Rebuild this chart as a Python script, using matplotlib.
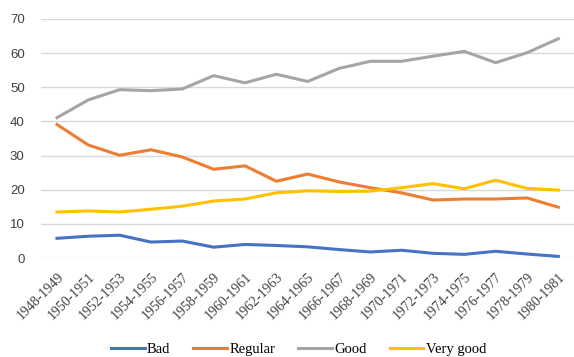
import matplotlib.pyplot as plt

plt.rcParams['font.family'] = ['Liberation Serif', 'DejaVu Serif']

# categories (two-year periods)
periods = ['1948-1949', '1950-1951', '1952-1953', '1954-1955', '1956-1957',
           '1958-1959', '1960-1961', '1962-1963', '1964-1965', '1966-1967',
           '1968-1969', '1970-1971', '1972-1973', '1974-1975', '1976-1977',
           '1978-1979', '1980-1981']

# series values (%)
bad = [5.8, 6.4, 6.7, 4.7, 5.0, 3.2, 4.0, 3.7, 3.3, 2.5,
       1.8, 2.3, 1.4, 1.1, 2.0, 1.2, 0.5]
regular = [39.1, 33.1, 30.1, 31.7, 29.6, 26.0, 27.0, 22.5, 24.6, 22.3,
           20.6, 19.1, 17.0, 17.3, 17.3, 17.6, 14.9]
good = [41.1, 46.3, 49.3, 49.0, 49.5, 53.4, 51.3, 53.8, 51.7, 55.5,
        57.6, 57.6, 59.1, 60.5, 57.2, 60.1, 64.2]
very_good = [13.5, 13.8, 13.5, 14.3, 15.2, 16.7, 17.3, 19.1, 19.7, 19.5,
             19.6, 20.6, 21.8, 20.3, 22.8, 20.4, 19.9]

series = [('Bad', bad, '#4472C4'),
          ('Regular', regular, '#ED7D31'),
          ('Good', good, '#A5A5A5'),
          ('Very good', very_good, '#FFC000')]

fig = plt.figure(figsize=(5.74, 3.57), dpi=100)
ax = fig.add_axes([0.072, 0.277, 0.928, 0.67])

x = list(range(len(periods)))
for name, vals, color in series:
    ax.plot(x, vals, color=color, linewidth=2.2, label=name, zorder=3)

# axes and grid
ax.set_ylim(0, 70)
ax.set_yticks(range(0, 71, 10))
ax.set_xlim(-0.5, len(periods) - 0.5)
ax.set_xticks(x)
ax.set_xticklabels(periods, rotation=45, ha='right', rotation_mode='anchor')
ax.grid(axis='y', color='#d9d9d9', linewidth=1, zorder=0)
ax.tick_params(length=0, colors='#404040')
ax.tick_params(axis='y', labelsize=9.5, pad=12)
for lbl in ax.get_yticklabels():
    lbl.set_family(['Liberation Sans', 'DejaVu Sans'])
ax.tick_params(axis='x', labelsize=10, pad=9)
for s in ax.spines.values():
    s.set_visible(False)

fig.legend(loc='lower center', ncol=4, frameon=False, fontsize=10.5,
           bbox_to_anchor=(0.52, -0.035), handlelength=2.3, columnspacing=1.6,
           handletextpad=0.15)

plt.savefig('out.png', dpi=100)
